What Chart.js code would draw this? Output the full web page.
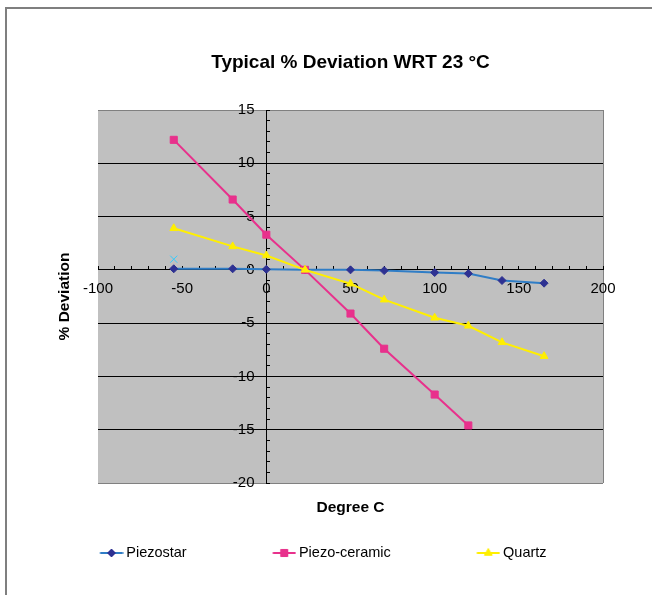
<!DOCTYPE html>
<html lang="en">
<head>
<meta charset="UTF-8">
<title>Typical % Deviation WRT 23 °C</title>
<script src="https://cdn.jsdelivr.net/npm/chart.js@4"></script>
<style>
  body { margin: 0; background: #fff; }
  canvas { display: block; }
</style>
</head>
<body>
<canvas id="deviationChart" width="652" height="595"></canvas>
<script>
// temperatures (deg C) and % deviation
const piezostarTemp = [-55, -20, 0, 23, 50, 70, 100, 120, 140, 165];
const piezostarDev  = [0.1, 0.1, 0.05, 0, 0, -0.07, -0.25, -0.35, -1.0, -1.25];

const ceramicTemp = [-55, -20, 0, 23, 50, 70, 100, 120];
const ceramicDev  = [12.2, 6.6, 3.3, 0, -4.1, -7.4, -11.7, -14.6];

const quartzTemp = [-55, -20, 0, 23, 50, 70, 100, 120, 140, 165];
const quartzDev  = [3.9, 2.2, 1.35, 0, -1.3, -2.8, -4.5, -5.25, -6.8, -8.1];

// lone cyan point at -55, no legend entry in the original
const strayTemp = [-55];
const strayDev  = [1.0];

const seriesNames = ['Piezostar', 'Piezo-ceramic', 'Quartz'];
const xTicks = [-100, -50, 0, 50, 100, 150, 200];
const yTicks = [-20, -15, -10, -5, 0, 5, 10, 15];

const FONT = '"Liberation Sans", Arial, sans-serif';

function points(xs, ys) {
    return xs.map((x, i) => ({ x: x, y: ys[i] }));
}

// legend symbol: short line with the marker on it, sat at the right of the box
function legendIcon(lineColor, markerColor, style, radius) {
    const c = document.createElement('canvas');
    c.width = 104;
    c.height = 14;
    const g = c.getContext('2d');
    g.strokeStyle = lineColor;
    g.lineWidth = 2;
    g.beginPath();
    g.moveTo(80.5, 7);
    g.lineTo(103.5, 7);
    g.stroke();
    g.fillStyle = markerColor;
    g.strokeStyle = markerColor;
    g.lineWidth = 1;
    Chart.helpers.drawPoint(g, { pointStyle: style, radius: radius, borderWidth: 1, rotation: 0 }, 92, 7);
    return c;
}

// grey plot area + the frame edges of the chart object
const plotBackground = {
    id: 'plotBackground',
    beforeDraw(chart) {
        const { ctx, chartArea: a, width, height } = chart;
        ctx.save();
        ctx.fillStyle = '#ffffff';
        ctx.fillRect(0, 0, width, height);
        ctx.fillStyle = '#c0c0c0';
        ctx.fillRect(a.left, a.top, a.right - a.left, a.bottom - a.top);
        ctx.fillStyle = '#7f7f7f';
        ctx.fillRect(5, 7, 2, height - 7);
        ctx.fillRect(5, 7, width - 5, 2);
        ctx.restore();
    }
};

const icons = [
    legendIcon('#2f7dc6', '#2e3192', 'rectRot', 4),
    legendIcon('#e8318c', '#e8318c', 'rect', 5),
    legendIcon('#ffef00', '#ffef00', 'triangle', 4.5)
];

const ctx = document.getElementById('deviationChart').getContext('2d');
new Chart(ctx, {
    type: 'scatter',
    data: {
        datasets: [{
            label: seriesNames[0],
            data: points(piezostarTemp, piezostarDev),
            showLine: true,
            borderColor: '#2f7dc6',
            borderWidth: 2,
            pointStyle: 'rectRot',
            pointRadius: 4,
            pointBackgroundColor: '#2e3192',
            pointBorderColor: '#2e3192',
            pointBorderWidth: 1,
            order: 3
        }, {
            label: seriesNames[1],
            data: points(ceramicTemp, ceramicDev),
            showLine: true,
            borderColor: '#e8318c',
            borderWidth: 2,
            pointStyle: 'rect',
            pointRadius: 5,
            pointBackgroundColor: '#e8318c',
            pointBorderColor: '#e8318c',
            pointBorderWidth: 1,
            order: 2
        }, {
            label: seriesNames[2],
            data: points(quartzTemp, quartzDev),
            showLine: true,
            borderColor: '#ffef00',
            borderWidth: 2,
            pointStyle: 'triangle',
            pointRadius: 4.5,
            pointBackgroundColor: '#ffef00',
            pointBorderColor: '#ffef00',
            pointBorderWidth: 1,
            order: 1
        }, {
            label: 'extra',
            data: points(strayTemp, strayDev),
            showLine: false,
            pointStyle: 'crossRot',
            pointRadius: 5,
            pointBorderColor: '#33ccff',
            pointBorderWidth: 1,
            order: 0
        }]
    },
    options: {
        responsive: false,
        animation: false,
        events: [],
        layout: { padding: { left: 14, right: 49, top: 0, bottom: 24.75 } },
        scales: {
            x: {
                type: 'linear',
                min: xTicks[0],
                max: xTicks[xTicks.length - 1],
                position: { y: 0 },
                ticks: {
                    stepSize: 10,
                    autoSkip: false,
                    maxRotation: 0,
                    padding: 14,
                    color: '#000',
                    font: { family: FONT, size: 15 },
                    callback: v => xTicks.includes(v) ? v : ''
                },
                grid: {
                    color: c => (c.tick && c.tick.value === 200) ? '#808080' : 'rgba(0,0,0,0)',
                    tickColor: '#000',
                    tickLength: -4
                },
                border: { color: '#000', width: 1 }
            },
            y: {
                type: 'linear',
                min: yTicks[0],
                max: yTicks[yTicks.length - 1],
                position: { x: 0 },
                ticks: {
                    stepSize: 1,
                    autoSkip: false,
                    callback: () => ''
                },
                grid: {
                    color: c => {
                        const v = c.tick ? c.tick.value : null;
                        if (v === 15 || v === -20) return '#808080';
                        return yTicks.includes(v) ? '#000' : 'rgba(0,0,0,0)';
                    },
                    tickColor: '#000',
                    tickLength: -4
                },
                border: { color: '#000', width: 1 }
            },
            // y tick labels, set a little left of the x = 0 axis line
            yNumbers: {
                type: 'linear',
                min: yTicks[0],
                max: yTicks[yTicks.length - 1],
                position: { x: -7 },
                ticks: {
                    stepSize: 5,
                    autoSkip: false,
                    color: '#000',
                    font: { family: FONT, size: 15 }
                },
                grid: { display: false, drawTicks: false },
                border: { display: false }
            },
            // empty axes that only carry the axis titles
            xLabel: {
                type: 'linear',
                position: 'bottom',
                ticks: { display: false },
                grid: { display: false, drawTicks: false },
                border: { display: false },
                title: {
                    display: true,
                    text: 'Degree C',
                    color: '#000',
                    font: { family: FONT, size: 15.5, weight: 'bold', lineHeight: 1.2 },
                    padding: { top: 15.7, bottom: 18.45 }
                }
            },
            yLabel: {
                type: 'linear',
                position: 'left',
                ticks: { display: false },
                grid: { display: false, drawTicks: false },
                border: { display: false },
                title: {
                    display: true,
                    text: '% Deviation',
                    color: '#000',
                    font: { family: FONT, size: 15.5, weight: 'bold', lineHeight: 1.2 },
                    padding: { top: 41.7, bottom: 23.7 }
                }
            }
        },
        plugins: {
            title: {
                display: true,
                text: 'Typical % Deviation WRT 23 °C',
                fullSize: false,
                color: '#000',
                font: { family: FONT, size: 19, weight: 'bold', lineHeight: 1.2 },
                padding: { top: 51.6, bottom: 35.6 }
            },
            legend: {
                position: 'bottom',
                align: 'start',
                labels: {
                    usePointStyle: true,
                    pointStyleWidth: 95,
                    padding: 10,
                    color: '#000',
                    font: { family: FONT, size: 14.5 },
                    filter: item => item.datasetIndex < seriesNames.length,
                    sort: (a, b) => a.datasetIndex - b.datasetIndex,
                    generateLabels: chart => {
                        const items = Chart.defaults.plugins.legend.labels.generateLabels(chart);
                        return items.map(item => Object.assign(item, { pointStyle: icons[item.datasetIndex] || item.pointStyle }));
                    }
                }
            },
            tooltip: { enabled: false }
        }
    },
    plugins: [plotBackground]
});
</script>
</body>
</html>
